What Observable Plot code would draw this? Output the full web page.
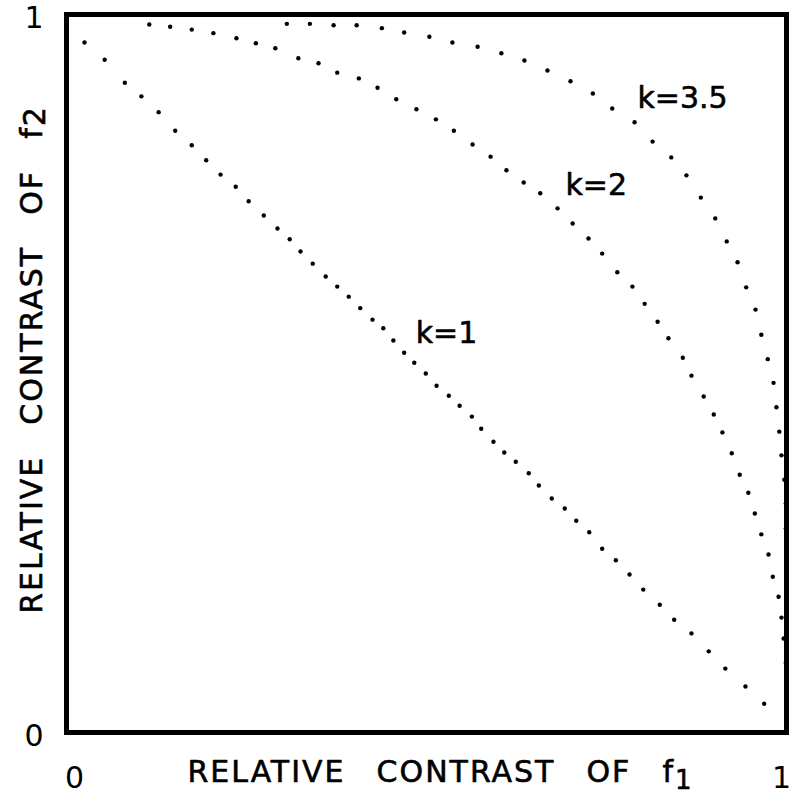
<!DOCTYPE html>
<html>
<head>
<meta charset="utf-8">
<script src="https://cdn.jsdelivr.net/npm/d3@7"></script>
<script src="https://cdn.jsdelivr.net/npm/@observablehq/plot@0.6"></script>
<style>
  html, body { margin: 0; padding: 0; background: #fff; }
  #chart { width: 791px; height: 799px; overflow: hidden; }
</style>
</head>
<body>
<div id="chart"></div>
<script>
// Dot positions (relative contrast of f1 / f2)
const k1X = [0.025,0.053,0.081,0.104,0.128,0.151,0.174,0.194,0.214,0.235,0.253,0.274,0.293,0.310,0.325,0.342,0.360,0.376,0.392,0.408,0.425,0.440,0.454,0.469,0.483,0.499,0.514,0.531,0.546,0.563,0.576,0.593,0.608,0.624,0.642,0.656,0.674,0.692,0.708,0.726,0.744,0.763,0.782,0.801,0.824,0.844,0.868,0.892,0.915,0.943,0.969];
const k1Y = [0.961,0.937,0.905,0.886,0.864,0.838,0.818,0.797,0.777,0.760,0.740,0.720,0.702,0.687,0.670,0.653,0.635,0.621,0.607,0.591,0.575,0.563,0.546,0.529,0.515,0.500,0.483,0.469,0.455,0.440,0.423,0.405,0.390,0.377,0.361,0.344,0.326,0.312,0.295,0.279,0.256,0.240,0.220,0.199,0.178,0.157,0.138,0.113,0.089,0.064,0.040];

const k2X = [0.115,0.144,0.174,0.204,0.236,0.263,0.290,0.322,0.350,0.376,0.406,0.432,0.458,0.486,0.513,0.538,0.564,0.589,0.611,0.635,0.658,0.682,0.703,0.725,0.744,0.765,0.786,0.803,0.821,0.836,0.856,0.868,0.885,0.899,0.911,0.924,0.935,0.947,0.956,0.965,0.975,0.981,0.989,0.993,0.996,0.999];
const k2Y = [0.986,0.983,0.979,0.974,0.967,0.960,0.953,0.939,0.932,0.919,0.911,0.898,0.882,0.868,0.854,0.838,0.819,0.802,0.783,0.766,0.751,0.730,0.709,0.688,0.667,0.641,0.621,0.597,0.572,0.549,0.522,0.497,0.468,0.443,0.418,0.389,0.359,0.334,0.305,0.276,0.248,0.217,0.189,0.160,0.131,0.097];

const k35X = [0.306,0.338,0.371,0.403,0.438,0.469,0.504,0.536,0.571,0.604,0.636,0.668,0.700,0.731,0.758,0.789,0.814,0.840,0.861,0.881,0.901,0.917,0.932,0.944,0.957,0.965,0.974,0.982,0.986,0.990,0.993,0.997,0.999,0.999];
const k35Y = [0.987,0.987,0.985,0.985,0.981,0.975,0.969,0.961,0.955,0.946,0.936,0.922,0.907,0.890,0.869,0.850,0.823,0.801,0.776,0.745,0.716,0.684,0.655,0.620,0.589,0.554,0.520,0.487,0.453,0.419,0.386,0.352,0.319,0.284];

const curveNames = ["k=1", "k=2", "k=3.5"];
const labelX = [0.485, 0.693, 0.793];
const labelY = [0.543, 0.748, 0.870];

const xTickLow = [0];
const xTickHigh = [1];
const yTicks = [0, 1];
const gap = "\u00a0\u00a0\u2009";
const axisLabel = "RELATIVE" + gap + "CONTRAST" + gap + "OF" + gap + "f";
const axisSubs = ["1", "2"]; // f1 on the x axis, f2 on the y axis

const dots = [
  ...k1X.map((x, i) => ({x, y: k1Y[i], k: curveNames[0]})),
  ...k2X.map((x, i) => ({x, y: k2Y[i], k: curveNames[1]})),
  ...k35X.map((x, i) => ({x, y: k35Y[i], k: curveNames[2]}))
];
const labels = curveNames.map((t, i) => ({t, x: labelX[i], y: labelY[i]}));

const font = "'DejaVu Sans', sans-serif";
const ink = {fill: "#000", stroke: "#000", strokeWidth: 0.6};

const chart = Plot.plot({
  width: 791,
  height: 799,
  marginLeft: 66,
  marginRight: 5,
  marginTop: 14,
  marginBottom: 67,
  style: {fontFamily: font, fontSize: "30px", color: "#000", background: "#fff"},
  x: {domain: [0, 1]},
  y: {domain: [0, 1]},
  marks: [
    Plot.axisX(xTickLow, {tickSize: 0, tickPadding: 34, dx: 8, fontSize: 30, label: null, tickFormat: d => String(d), ...ink}),
    Plot.axisX(xTickHigh, {tickSize: 0, tickPadding: 34, dx: -5, fontSize: 30, label: null, tickFormat: d => String(d), ...ink}),
    Plot.axisY(yTicks, {tickSize: 0, tickPadding: 23, dy: 4, fontSize: 30, label: null, tickFormat: d => String(d), ...ink}),
    Plot.frame({stroke: "#000", strokeWidth: 5}),
    Plot.dot(dots, {x: "x", y: "y", r: 2.2, fill: "#000", stroke: null}),
    Plot.text(labels, {x: "x", y: "y", text: "t", textAnchor: "start", lineAnchor: "bottom", fontSize: 30, ...ink}),
    Plot.text([axisLabel], {frameAnchor: "bottom", textAnchor: "middle", lineAnchor: "middle", dx: 14, dy: 40, fontSize: 30, ...ink}),
    Plot.text([axisLabel], {frameAnchor: "left", textAnchor: "middle", lineAnchor: "middle", rotate: -90, dx: -34, dy: -14, fontSize: 30, ...ink})
  ]
});

// subscripts and letter spacing on the axis labels (x label is drawn first, then the y label)
let n = 0;
d3.select(chart).selectAll("text").each(function () {
  if (this.textContent === axisLabel && n < 2) {
    const isX = n === 0;
    d3.select(this).attr("letter-spacing", 2);
    d3.select(this).append("tspan")
      .attr("baseline-shift", isX ? "-25%" : "-10%")
      .attr("font-size", isX ? 26 : 30)
      .text(axisSubs[n]);
    n++;
  }
});

document.getElementById("chart").appendChild(chart);
</script>
</body>
</html>
